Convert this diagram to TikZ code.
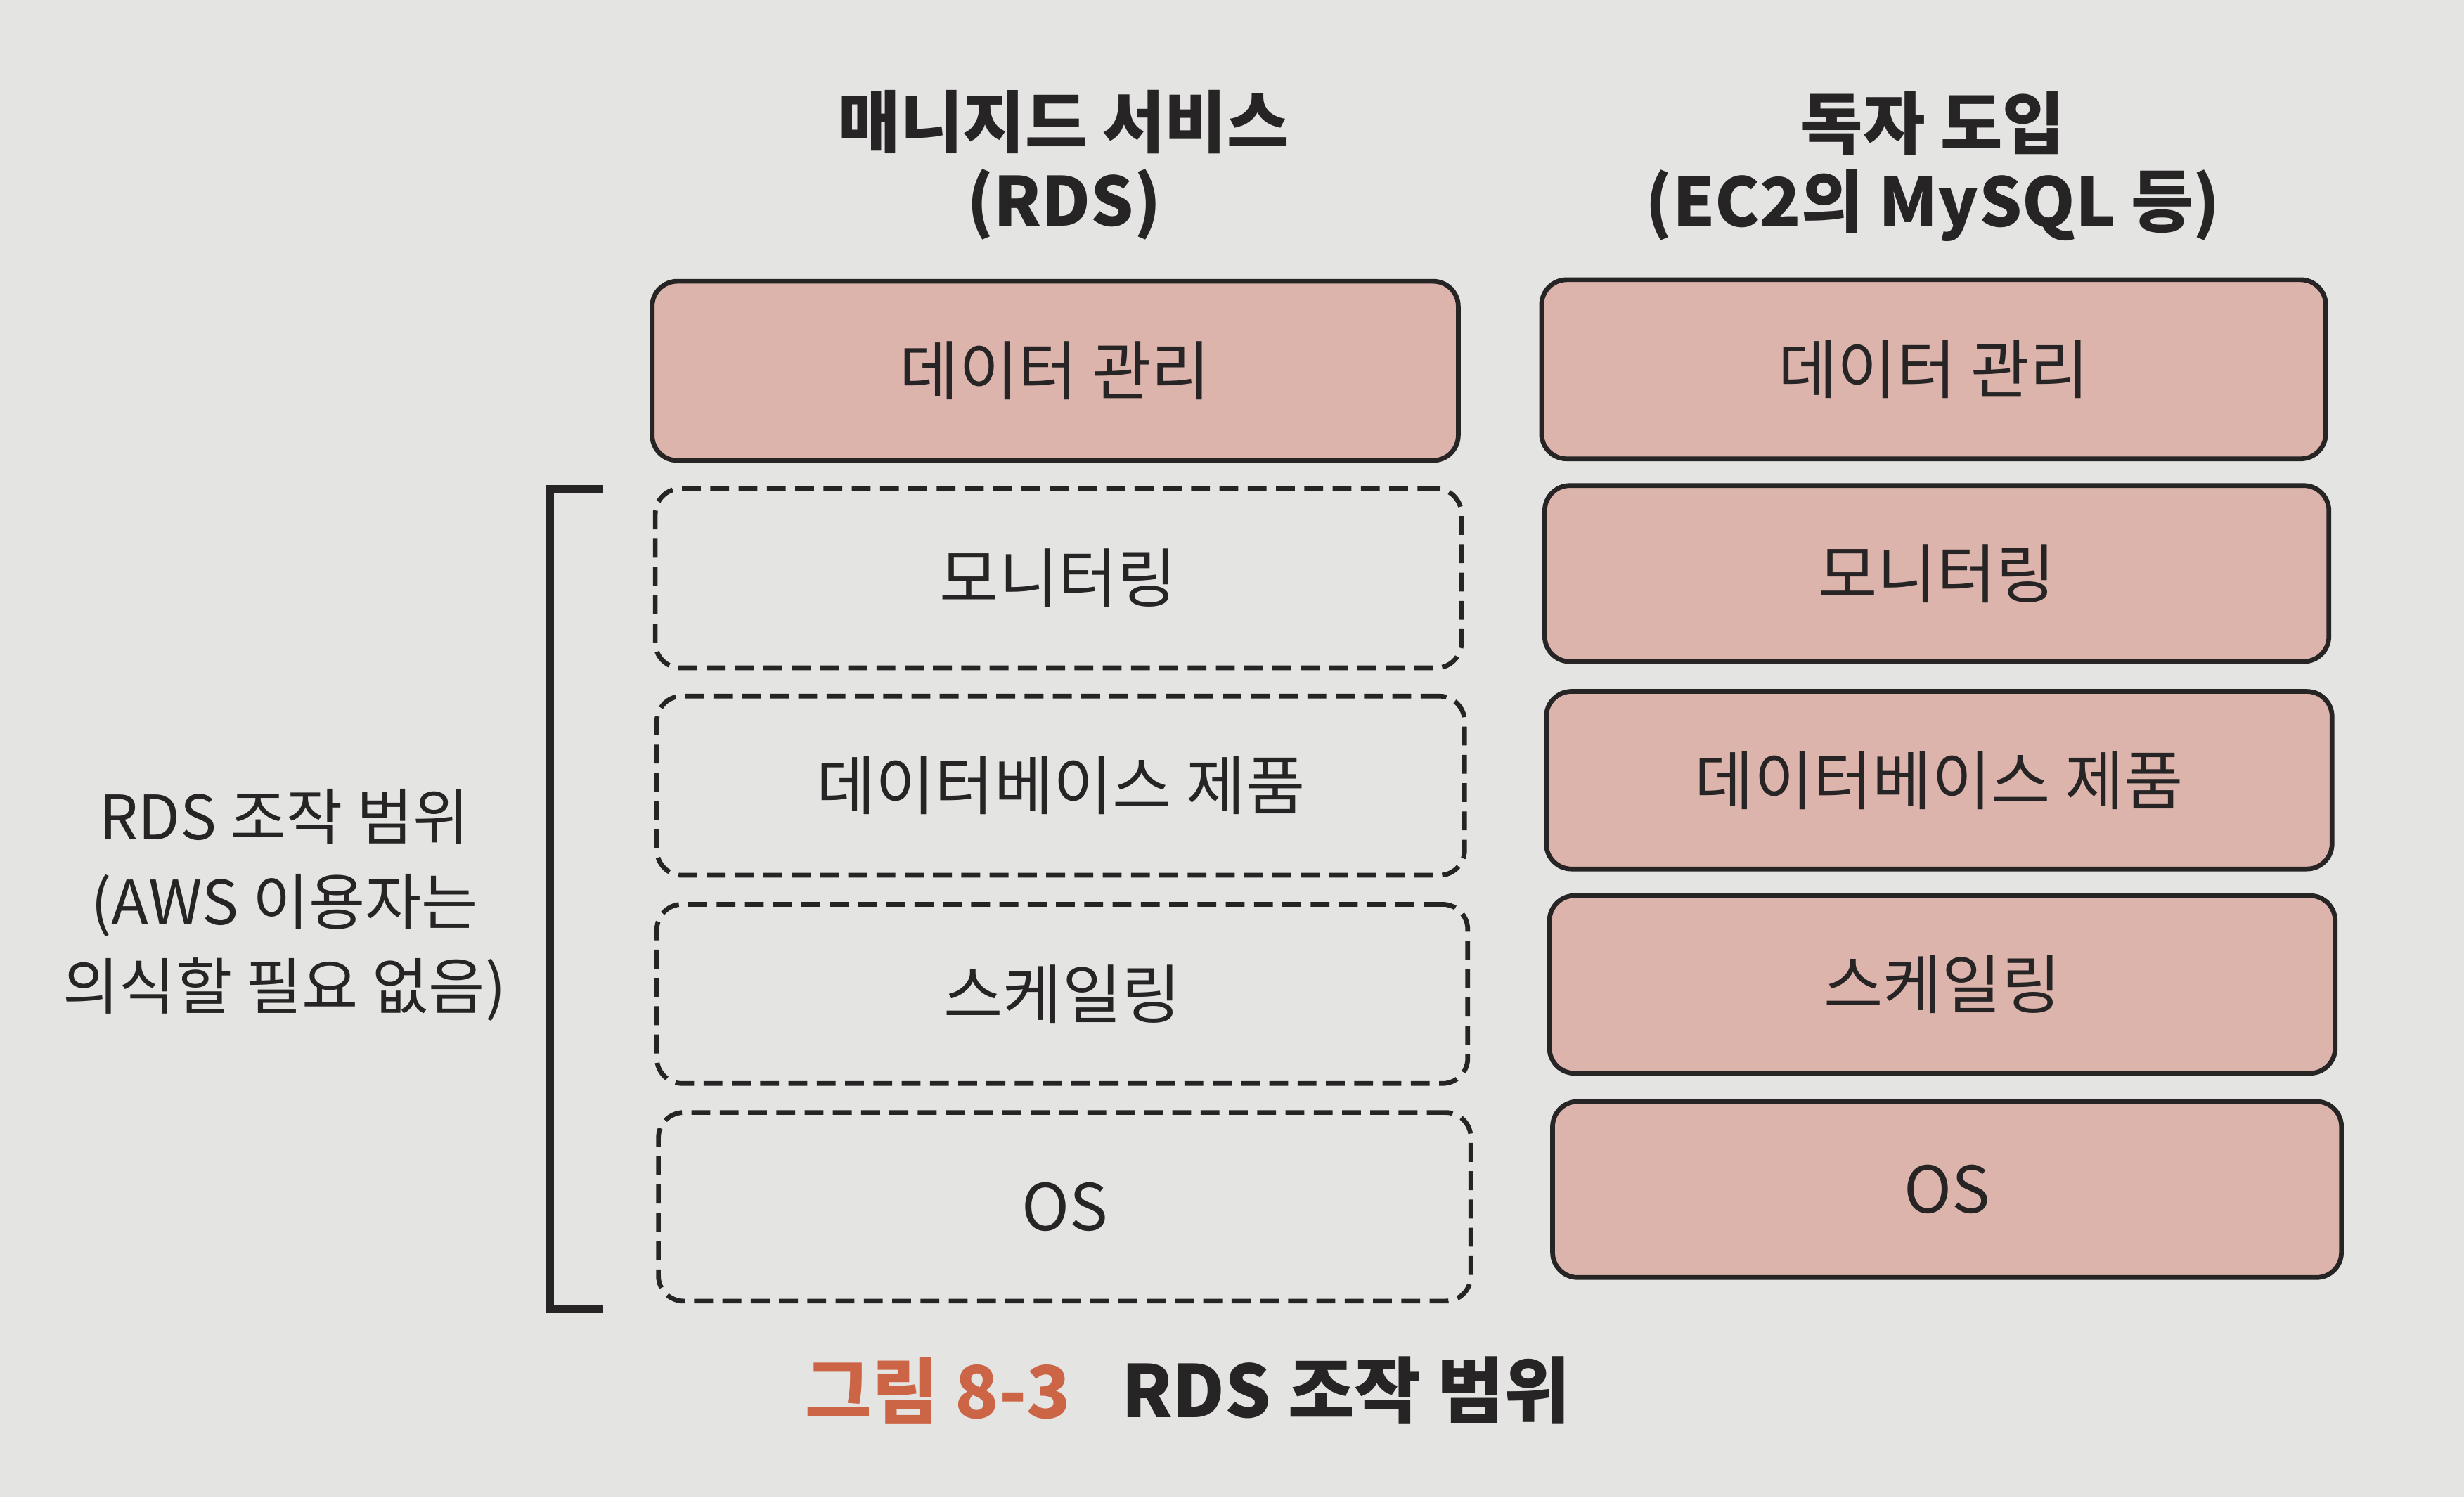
\documentclass[tikz,border=0pt]{standalone}
\usepackage{fontspec}
\setmainfont{Noto Sans CJK KR}
\usepackage{tikz}
\usetikzlibrary{positioning}

\definecolor{paper}{RGB}{228,229,227}
\definecolor{layerfill}{RGB}{220,180,172}
\definecolor{ink}{RGB}{38,36,36}
\definecolor{capred}{RGB}{204,100,70}

\tikzset{
  layer/.style={draw=ink, line width=3pt, rounded corners=16pt, fill=layerfill,
    minimum height=114pt, inner sep=0pt, text=ink,
    font=\fontsize{41}{48}\selectfont},
  offlayer/.style={layer, fill=none, dash pattern=on 12pt off 6pt},
  head/.style={align=center, text=ink, font=\fontsize{43}{50}\selectfont\bfseries},
}

\begin{document}
\begin{tikzpicture}[x=1pt, y=-1pt]
        \useasboundingbox[fill=paper] (0,0) rectangle (1568,953);
        % column titles
        \node[head] (rdshead) at (677,105) {매니지드 서비스\\(RDS)};
        \node[head] (ec2head) at (1230,106) {독자 도입\\(EC2의 MySQL 등)};
        % managed service
        \node[layer, minimum width=513pt] (rdsdata) at (671.5,236) {데이터 관리};
        \node[offlayer, minimum width=513pt] (rdsmon) at (673.5,368) {모니터링};
        \node[offlayer, minimum width=514pt] (rdsdb) at (675,500) {데이터베이스 제품};
        \node[offlayer, minimum width=516pt] (rdsscale) at (676,632.5) {스케일링};
        \node[offlayer, minimum width=517pt, minimum height=120pt] (rdsos) at (677.5,768) {OS};
        % self install
        \node[layer, minimum width=499pt] (ec2data) at (1230.5,235) {데이터 관리};
        \node[layer, minimum width=499pt, minimum height=112pt] (ec2mon) at (1232.5,365) {모니터링};
        \node[layer, minimum width=500pt, minimum height=113pt] (ec2db) at (1234,496.5) {데이터베이스 제품};
        \node[layer, minimum width=500pt, minimum height=113pt] (ec2scale) at (1236,626.5) {스케일링};
        \node[layer, minimum width=502pt, minimum height=112pt] (ec2os) at (1239,757) {OS};
        % scope bracket
        \coordinate (brtop) at (384,311);
        \coordinate (brbot) at (384,833);
        \draw[ink, line width=5pt] (brtop) -- ++(-34,0) -- ++(0,522) -- (brbot);
        \node[align=center, text=ink, font=\fontsize{39}{54}\selectfont] (scope) at (181,576)
            {RDS 조작 범위\\(AWS 이용자는\\의식할 필요 없음)};
        % caption
        \node[text=capred, font=\fontsize{46}{50}\selectfont\bfseries] (capnum) at (597,885) {그림 8-3};
        \node[text=ink, font=\fontsize{46}{50}\selectfont\bfseries, anchor=west] (captitle) at (710,885) {RDS 조작 범위};
    \end{tikzpicture}
\end{document}
